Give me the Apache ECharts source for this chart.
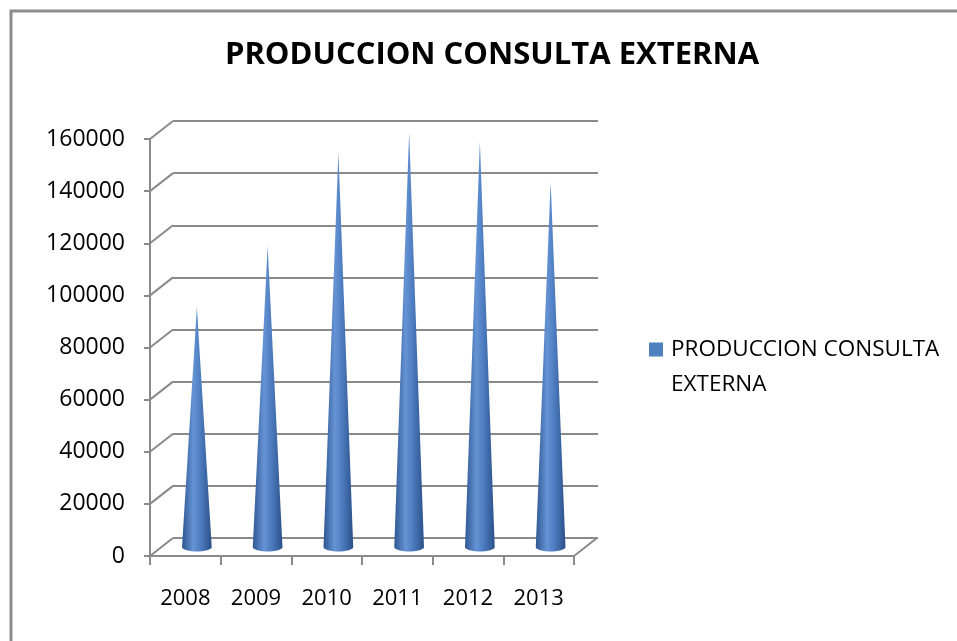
<!DOCTYPE html>
<html>
<head>
<meta charset="utf-8">
<script src="https://cdn.jsdelivr.net/npm/echarts@6/dist/echarts.min.js"></script>
<style>
  html, body { margin: 0; padding: 0; background: #fff; }
  #main { width: 957px; height: 641px; }
</style>
</head>
<body>
<div id="main"></div>
<script type="text/javascript">
// datos
var years = ['2008', '2009', '2010', '2011', '2012', '2013'];
var produccion = [92000, 115500, 151500, 159000, 155500, 140000];
var yTicks = [0, 20000, 40000, 60000, 80000, 100000, 120000, 140000, 160000];

var serieName = 'PRODUCCION CONSULTA EXTERNA';
var DX = 23, DY = -18;   // profundidad 3D
var lineGray = '#8a8a8a';
var font = '"Open Sans", "Liberation Sans", sans-serif';

var myChart = echarts.init(document.getElementById('main'));

// cono
function renderCone(params, api) {
    var tip = api.coord([api.value(0), api.value(1)]);
    var base = api.coord([api.value(0), 0]);
    var hw = api.size([1, 0])[0] * 0.21;
    var ry = hw * 0.3;
    var pts = [[tip[0], tip[1]]];
    for (var i = 0; i <= 20; i++) {
        var a = Math.PI - Math.PI * i / 20;
        pts.push([base[0] + hw * Math.cos(a), base[1] + ry * Math.sin(a)]);
    }
    return {
        type: 'polygon',
        shape: { points: pts },
        style: {
            fill: new echarts.graphic.LinearGradient(0, 0, 1, 0, [
                { offset: 0, color: '#2f5792' },
                { offset: 0.38, color: '#6593d4' },
                { offset: 0.6, color: '#4f7fc2' },
                { offset: 1, color: '#2b508a' }
            ])
        }
    };
}

// lineas diagonales
function renderDiag(params, api) {
    var y = api.coord([0, api.value(1)])[1];
    var x = params.coordSys.x;
    var children = [{
        type: 'line',
        shape: { x1: x, y1: y, x2: x + DX, y2: y + DY },
        style: { stroke: lineGray, lineWidth: 2 }
    }];
    if (params.dataIndex === 0) {
        var xr = x + params.coordSys.width;
        children.push({
            type: 'line',
            shape: { x1: xr, y1: y, x2: xr + DX, y2: y + DY },
            style: { stroke: lineGray, lineWidth: 2 }
        });
    }
    return { type: 'group', children: children };
}

var option = {
    backgroundColor: '#fff',
    animation: false,
    title: {
        text: serieName,
        left: 487,
        textAlign: 'center',
        top: 35,
        textStyle: { fontFamily: font, fontSize: 31, fontWeight: 'bold', color: '#000' }
    },
    legend: {
        data: [serieName],
        left: 644,
        top: 327,
        itemWidth: 17,
        itemHeight: 49,
        icon: 'path://M0,0L14,0L14,14L0,14Z M17,49L17.01,49L17.01,49.01Z',
        formatter: function () { return 'PRODUCCION CONSULTA\nEXTERNA'; },
        textStyle: { fontFamily: font, fontSize: 22.5, lineHeight: 35, color: '#000' }
    },
    graphic: [{
        type: 'polyline',
        shape: { points: [[11, 641], [11, 11], [957, 11]] },
        style: { stroke: '#8c8c8c', lineWidth: 3, fill: null },
        silent: true
    }],
    grid: [
        { left: 150, top: 139, width: 424, height: 417 },
        { left: 173, top: 121, width: 425, height: 417 },
        { left: 161.5, top: 130, width: 424.5, height: 417 }
    ],
    xAxis: [{
        type: 'category',
        gridIndex: 0,
        data: years,
        axisLine: { lineStyle: { color: lineGray, width: 2 } },
        axisTick: { show: true, length: 9, lineStyle: { color: lineGray, width: 2 } },
        axisLabel: { margin: 32, fontFamily: font, fontSize: 22, color: '#000' }
    }, {
        type: 'category', gridIndex: 1, data: years, show: false
    }, {
        type: 'category', gridIndex: 2, data: years, show: false
    }],
    yAxis: [{
        type: 'value',
        gridIndex: 0,
        min: yTicks[0],
        max: yTicks[yTicks.length - 1],
        interval: 20000,
        axisLine: { show: true, lineStyle: { color: lineGray, width: 2 } },
        axisTick: { show: true, length: 6, lineStyle: { color: lineGray, width: 2 } },
        splitLine: { show: false },
        axisLabel: {
            margin: 25, fontFamily: font, fontSize: 23, color: '#000',
            formatter: function (v) { return String(v); }
        }
    }, {
        type: 'value',
        gridIndex: 1,
        min: yTicks[0],
        max: yTicks[yTicks.length - 1],
        interval: 20000,
        axisLine: { show: false },
        axisTick: { show: false },
        axisLabel: { show: false },
        splitLine: { show: true, lineStyle: { color: lineGray, width: 2 } }
    }, {
        type: 'value',
        gridIndex: 2,
        min: yTicks[0],
        max: yTicks[yTicks.length - 1],
        show: false,
        splitLine: { show: false }
    }],
    series: [{
        name: 'diag',
        type: 'custom',
        xAxisIndex: 0,
        yAxisIndex: 0,
        renderItem: renderDiag,
        data: yTicks.map(function (v) { return [0, v]; }),
        silent: true,
        z: 1
    }, {
        name: serieName,
        type: 'custom',
        xAxisIndex: 2,
        yAxisIndex: 2,
        itemStyle: { color: '#4f81bd' },
        renderItem: renderCone,
        data: years.map(function (y, i) { return [i, produccion[i]]; }),
        z: 5
    }]
};
myChart.setOption(option);
</script>
</body>
</html>
